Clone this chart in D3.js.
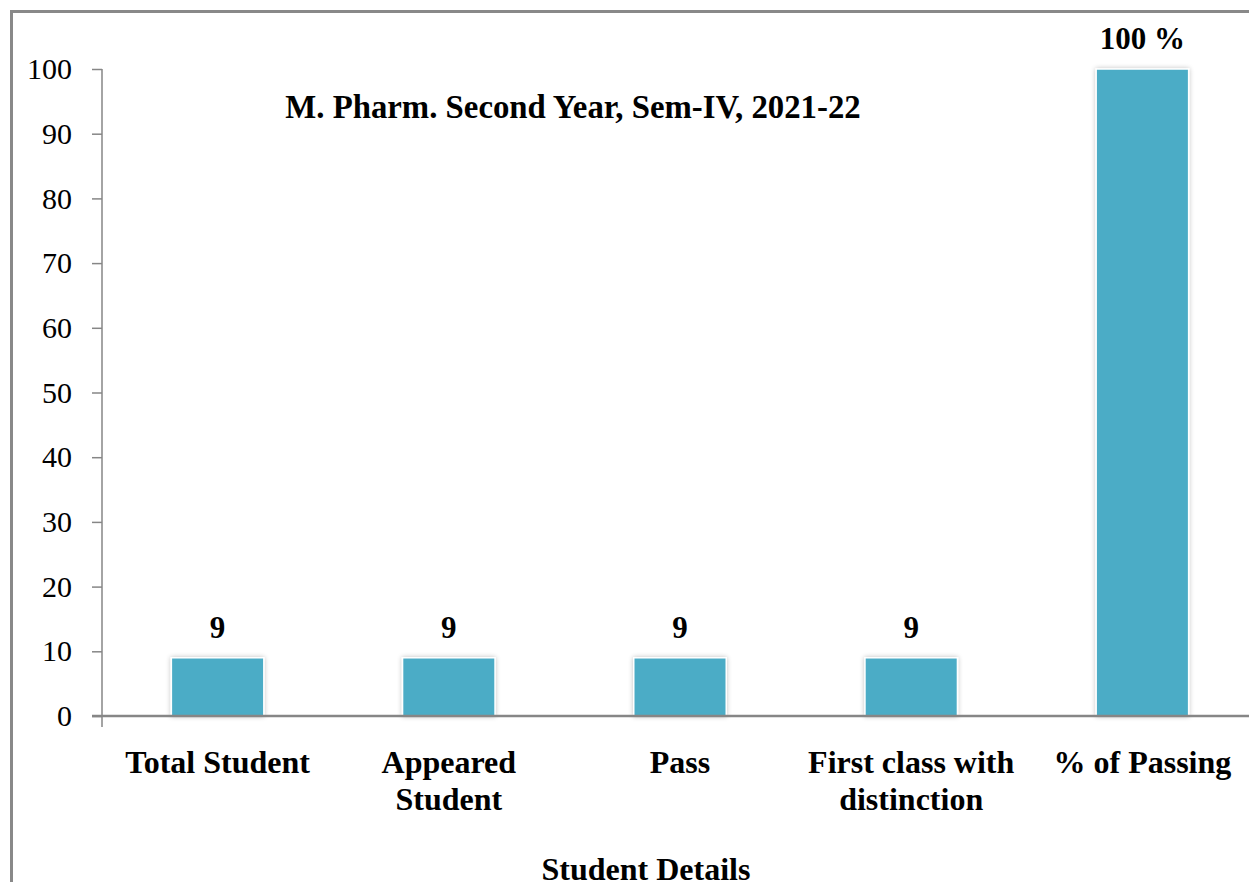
<!DOCTYPE html>
<html lang="en">
    <head>
        <meta charset="utf-8">
        <title>Student Details</title>
        <script src="https://d3js.org/d3.v7.min.js"></script>
        <style>
            body { margin: 0; background: #fff; }
            text { font-family: "Liberation Serif", "Times New Roman", serif; fill: #000; }
        </style>
    </head>
    <body>
        <script type="text/javascript">

            var categories = ["Total Student", "Appeared Student", "Pass", "First class with distinction", "% of Passing"];
            var catLines = [["Total Student"], ["Appeared", "Student"], ["Pass"], ["First class with", "distinction"], ["% of Passing"]];
            var values = [9, 9, 9, 9, 100];
            var valueLabels = ["9", "9", "9", "9", "100 %"];
            var yTicks = [0, 10, 20, 30, 40, 50, 60, 70, 80, 90, 100];

            var width = 1249, height = 882;
            var margin = { left: 102, top: 69, right: -9, bottom: 166 };
            var innerWidth = width - margin.left - margin.right;
            var innerHeight = height - margin.top - margin.bottom;

            var svg = d3.select("body").append("svg")
                .attr("width", width)
                .attr("height", height);

            // outer frame (cut off at right and bottom)
            svg.append("path")
                .attr("d", "M11.5,882 V11.5 H1249")
                .attr("fill", "none")
                .attr("stroke", "#898989")
                .attr("stroke-width", 3);

            var defs = svg.append("defs");
            var f = defs.append("filter").attr("id", "shadow")
                .attr("x", "-10%").attr("y", "-10%").attr("width", "120%").attr("height", "120%");
            f.append("feGaussianBlur").attr("in", "SourceAlpha").attr("stdDeviation", 2.5).attr("result", "b");
            f.append("feComponentTransfer").attr("in", "b").attr("result", "s")
                .append("feFuncA").attr("type", "linear").attr("slope", 0.25);
            var m = f.append("feMerge");
            m.append("feMergeNode").attr("in", "s");
            m.append("feMergeNode").attr("in", "SourceGraphic");

            var g = svg.append("g")
                .attr("transform", `translate(${margin.left},${margin.top})`);

            var x = d3.scaleBand()
                .domain(categories)
                .range([0, innerWidth])
                .paddingInner(0.6)
                .paddingOuter(0.3);

            var y = d3.scaleLinear()
                .domain([0, 100])
                .range([innerHeight, 0]);

            // bars
            g.selectAll("rect.bar")
                .data(values)
                .enter().append("rect")
                .attr("class", "bar")
                .attr("x", (d, i) => x(categories[i]))
                .attr("y", d => y(d))
                .attr("width", x.bandwidth())
                .attr("height", d => innerHeight - y(d))
                .attr("fill", "#4BACC6")
                .attr("stroke", "#fff")
                .attr("stroke-width", 1.5)
                .attr("filter", "url(#shadow)");

            // value labels
            g.selectAll("text.val")
                .data(values)
                .enter().append("text")
                .attr("class", "val")
                .attr("x", (d, i) => x(categories[i]) + x.bandwidth() / 2)
                .attr("y", d => y(d) - 20)
                .attr("text-anchor", "middle")
                .attr("font-weight", "bold")
                .attr("font-size", 31)
                .text((d, i) => valueLabels[i]);

            // y axis
            var yAxis = g.append("g")
                .call(d3.axisLeft(y).tickValues(yTicks).tickSize(10).tickPadding(20));
            yAxis.select(".domain").remove();
            yAxis.selectAll(".tick line").attr("stroke", "#868686").attr("stroke-width", 1.5);
            yAxis.selectAll(".tick text")
                .style("font-family", "Liberation Serif, serif")
                .attr("font-size", 30)
                .attr("fill", "#000");
            yAxis.append("line")
                .attr("x1", 0).attr("x2", 0)
                .attr("y1", 0).attr("y2", innerHeight + 11)
                .attr("stroke", "#868686").attr("stroke-width", 1.5);

            // x axis line
            g.append("line")
                .attr("x1", -10).attr("x2", innerWidth)
                .attr("y1", innerHeight).attr("y2", innerHeight)
                .attr("stroke", "#868686").attr("stroke-width", 2.5);

            // category labels
            var cl = g.selectAll("text.cat")
                .data(categories)
                .enter().append("text")
                .attr("class", "cat")
                .attr("text-anchor", "middle")
                .attr("font-weight", "bold")
                .attr("font-size", 32)
                .attr("transform", d => `translate(${x(d) + x.bandwidth() / 2},${innerHeight + 57})`);
            cl.selectAll("tspan")
                .data((d, i) => catLines[i])
                .enter().append("tspan")
                .attr("x", 0)
                .attr("dy", (d, i) => i === 0 ? 0 : 37)
                .text(d => d);

            // chart title
            svg.append("text")
                .attr("x", 573)
                .attr("y", 118)
                .attr("text-anchor", "middle")
                .attr("font-weight", "bold")
                .attr("font-size", 32.8)
                .text("M. Pharm. Second Year, Sem-IV, 2021-22");

            // axis title
            svg.append("text")
                .attr("x", 646)
                .attr("y", 880)
                .attr("text-anchor", "middle")
                .attr("font-weight", "bold")
                .attr("font-size", 32)
                .text("Student Details");

        </script>
    </body>
</html>
